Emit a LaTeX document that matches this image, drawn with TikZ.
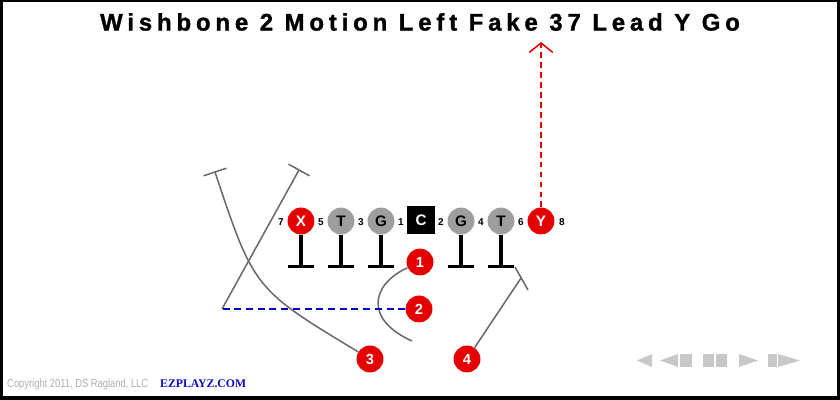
\documentclass[tikz,border=0pt]{standalone}
\usepackage{fontspec}
\setmainfont{Liberation Sans}
\newfontfamily\serifbold{Liberation Serif}
\newfontfamily\titlefont{Liberation Sans}[FakeBold=1.2, LetterSpace=20]
\usetikzlibrary{arrows.meta}
\definecolor{playred}{RGB}{228,0,0}
\definecolor{playgray}{RGB}{158,158,158}
\definecolor{routegray}{RGB}{105,105,105}
\definecolor{motionblue}{RGB}{0,0,200}
\definecolor{iconGray}{RGB}{200,200,200}
\definecolor{copygray}{RGB}{175,175,175}
\definecolor{siteblue}{RGB}{10,10,200}
\tikzset{
  lineman/.style={circle, fill=playgray, minimum size=27*0.85pt, inner sep=0pt, font=\bfseries\fontsize{13}{13}\selectfont},
  skill/.style={circle, fill=playred, minimum size=27*0.85pt, inner sep=0pt, text=white, font=\bfseries\fontsize{13}{13}\selectfont},
  back/.style={skill, font=\bfseries\fontsize{12.5}{12.5}\selectfont},
  centerbox/.style={rectangle, fill=black, minimum size=29*0.85pt, inner sep=0pt, text=white, font=\bfseries\fontsize{13}{13}\selectfont},
  gap/.style={inner sep=0pt, font=\bfseries\fontsize{8.5}{8.5}\selectfont},
  block/.style={line width=2.6pt, black},
  route/.style={line width=1.3pt, routegray},
  motion/.style={line width=1.3pt, motionblue, dash pattern=on 6pt off 4pt},
  hotroute/.style={line width=1.5pt, playred, dash pattern=on 5pt off 3.5pt},
  icon/.style={fill=iconGray, draw=none}
}
\begin{document}
\begin{tikzpicture}[x=0.03cm, y=-0.03cm]
			%%%%% START %%%%%

			\fill[black] (0,0) rectangle (840,400);
			\fill[white] (3,2) rectangle (837,396);

			\node[font=\titlefont\bfseries\fontsize{20.5}{20.5}\selectfont] (title) at (420,22) {Wishbone 2 Motion Left Fake 37 Lead Y Go};

			% line
			\node[skill] (X) at (301,221) {X};
			\node[lineman] (LT) at (341,221) {T};
			\node[lineman] (LG) at (381,221) {G};
			\node[centerbox] (C) at (421,220) {C};
			\node[lineman] (RG) at (461,221) {G};
			\node[lineman] (RT) at (501,221) {T};
			\node[skill] (Y) at (541,221) {Y};

			\node[gap] (g7) at (281,222) {7};
			\node[gap] (g5) at (321,222) {5};
			\node[gap] (g3) at (361,222) {3};
			\node[gap] (g1) at (401,222) {1};
			\node[gap] (g2) at (441,222) {2};
			\node[gap] (g4) at (481,222) {4};
			\node[gap] (g6) at (521,222) {6};
			\node[gap] (g8) at (562,222) {8};

			% backs
			\node[back] (b1) at (420,262) {1};
			\node[back] (b2) at (419,309) {2};
			\node[back] (b3) at (370,359) {3};
			\node[back] (b4) at (467,359) {4};

			% blocks
			\foreach \p in {X,LT,LG,RG,RT}
				\draw[block] (\p.south) -- ++(0,32) ++(-13,0) -- ++(26,0);

			% Y go
			\draw[hotroute, -{Straight Barb[length=8pt, width=20pt, line width=1.3pt]}] (Y.north) -- (541,42);

			% 1 fake
			\draw[route] (b1) .. controls (370,285) and (365,320) .. (412,341);

			% 2 motion and block
			\coordinate (m2) at (222,309);
			\coordinate (e2) at (299,170);
			\draw[motion] (b2) -- (m2);
			\draw[route] (m2) -- (e2);
			\draw[route] (288.5,164.2) -- (309.5,175.8);

			% 3 lead
			\coordinate (e3) at (215,172);
			\draw[route] (b3) .. controls (254,289) .. (e3);
			\draw[route] (203.6,175.8) -- (226.4,168.2);

			% 4 block
			\coordinate (e4) at (521,278);
			\draw[route] (b4) -- (e4);
			\draw[route] (515,267) -- (528,290);

			% footer
			\node[anchor=west, inner sep=0pt, text=copygray] (copy) at (7,384) {\scalebox{0.80}[1]{\fontsize{10}{10}\selectfont Copyright 2011, DS Ragland, LLC}};
			\node[anchor=west, inner sep=0pt, text=siteblue] (site) at (160,384) {\serifbold\bfseries\fontsize{10}{10}\selectfont EZPLAYZ.COM};

			% controls
			\fill[icon] (637,360.5) -- (652,354) -- (652,367) -- cycle;
			\fill[icon] (660,360.5) -- (678,354) -- (678,367) -- cycle;
			\fill[icon] (680,354) rectangle (692,367);
			\fill[icon] (703,354) rectangle (714,367);
			\fill[icon] (716,354) rectangle (727,367);
			\fill[icon] (758,360.5) -- (739,354) -- (739,367) -- cycle;
			\fill[icon] (768,354) rectangle (777,367);
			\fill[icon] (800,360.5) -- (778,354) -- (778,367) -- cycle;

			%%%%% END %%%%%
\end{tikzpicture}
\end{document}
